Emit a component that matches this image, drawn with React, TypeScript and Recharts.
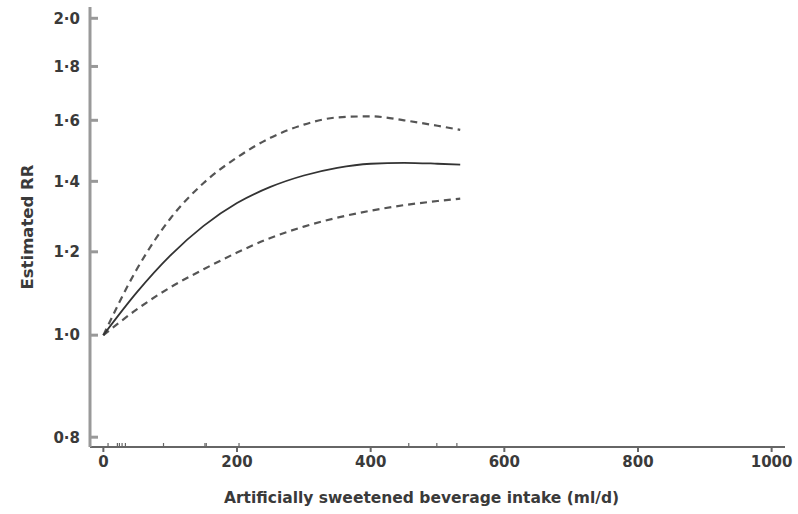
import { ComposedChart, Line, Scatter, XAxis, YAxis } from 'recharts'

// intake (ml/d) and estimated RR with 95% CI
const intake = [0, 50, 100, 150, 200, 250, 300, 350, 400, 450, 500, 534]
const rr = [1.0, 1.098, 1.19, 1.27, 1.335, 1.383, 1.418, 1.442, 1.455, 1.458, 1.455, 1.452]
const upperCI = [1.0, 1.155, 1.29, 1.395, 1.475, 1.54, 1.585, 1.61, 1.614, 1.6, 1.581, 1.567]
const lowerCI = [1.0, 1.058, 1.11, 1.155, 1.198, 1.237, 1.268, 1.293, 1.313, 1.329, 1.341, 1.348]

// rug of observed intakes along the x axis
const rugIntake = [7, 21, 24, 28, 33, 90, 152, 154, 203, 457, 499, 529]

const xTicks = [0, 200, 400, 600, 800, 1000]
const yTicks = [0.8, 1.0, 1.2, 1.4, 1.6, 1.8, 2.0]
const Y_MIN = 0.783
const Y_MAX = 2.05

const curveData = intake.map((x, i) => ({ x, rr: rr[i], upper: upperCI[i], lower: lowerCI[i] }))
const rugData = rugIntake.map((x) => ({ x, y: Y_MIN }))

const FONT = '"DejaVu Sans", sans-serif'
const TEXT = '#3a3a3a'

const fmtY = (v: number) => v.toFixed(1).replace('.', '·')

function RugMark(props: any) {
  const { cx, cy } = props
  return <line x1={cx} x2={cx} y1={cy} y2={cy - 4} stroke="#666" strokeWidth={1.2} />
}

export default function App() {
  return (
    <div style={{ position: 'absolute', left: 0, top: 0, background: '#fff' }}>
      <ComposedChart
        width={798}
        height={514}
        data={curveData}
        margin={{ top: 7, right: 13, left: 0, bottom: 0 }}
      >
        <XAxis
          type="number"
          dataKey="x"
          domain={[-20, 1020]}
          ticks={xTicks}
          allowDataOverflow
          height={67}
          stroke="#666"
          strokeWidth={2}
          tickSize={5}
          tickMargin={4}
          tick={{ fontSize: 15, fontWeight: 700, fill: TEXT, fontFamily: FONT }}
          label={{
            value: 'Artificially sweetened beverage intake (ml/d)',
            position: 'insideBottom',
            offset: 11,
            dx: -16,
            style: { fontSize: 15.5, fontWeight: 700, fill: TEXT, fontFamily: FONT },
          }}
        />
        <YAxis
          type="number"
          scale="log"
          domain={[Y_MIN, Y_MAX]}
          ticks={yTicks}
          allowDataOverflow
          width={90}
          stroke="#999"
          strokeWidth={3}
          tickSize={-8}
          tickMargin={18}
          tickFormatter={fmtY}
          tick={{ fontSize: 15, fontWeight: 700, fill: TEXT, fontFamily: FONT }}
          label={{
            value: 'Estimated RR',
            angle: -90,
            position: 'center',
            dx: -18,
            style: { fontSize: 16.5, fontWeight: 700, fill: TEXT, fontFamily: FONT, textAnchor: 'middle' },
          }}
        />
        <Line
          type="monotone"
          dataKey="upper"
          stroke="#555"
          strokeWidth={2.2}
          strokeDasharray="7 5"
          dot={false}
          isAnimationActive={false}
        />
        <Line
          type="monotone"
          dataKey="lower"
          stroke="#555"
          strokeWidth={2.2}
          strokeDasharray="7 5"
          dot={false}
          isAnimationActive={false}
        />
        <Line
          type="monotone"
          dataKey="rr"
          stroke="#333"
          strokeWidth={1.8}
          dot={false}
          isAnimationActive={false}
        />
        <Scatter data={rugData} dataKey="y" shape={<RugMark />} isAnimationActive={false} />
      </ComposedChart>
    </div>
  )
}
